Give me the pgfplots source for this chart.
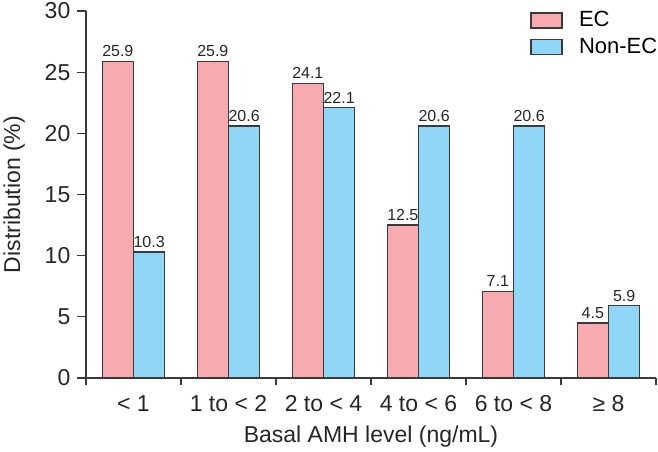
\documentclass[border=0pt]{standalone}
\usepackage{fontspec}
\setmainfont{Liberation Sans}
\usepackage{pgfplots}
\pgfplotsset{compat=1.18}
\definecolor{ecpink}{HTML}{F7ABB1}
\definecolor{ncblue}{HTML}{8FD6F7}
\definecolor{edgecol}{HTML}{3A3A3A}
\begin{document}
\begin{tikzpicture}
\begin{axis}[
  at={(43pt,36.5pt)}, anchor=south west,
  scale only axis, width=285pt, height=183.5pt,
  xmin=-0.5, xmax=5.5, ymin=0, ymax=30,
  axis lines*=left,
  axis line style={edgecol, line width=0.6pt},
  ytick={0,5,...,30},
  xtick={0,1,2,3,4,5},
  xticklabels={{< 1},{1 to < 2},{2 to < 4},{4 to < 6},{6 to < 8},{≥ 8}},
  major x tick style={draw=none},
  minor xtick={-0.5,0.5,...,5.5},
  minor x tick style={edgecol, line width=0.6pt},
  minor tick length=3.5pt,
  major tick length=4.3pt,
  tick align=outside,
  y tick style={edgecol, line width=0.6pt},
  /pgf/number format/assume math mode=true,
  tick label style={font=\fontsize{11.5}{13}\selectfont, text=black!85},
  xticklabel style={yshift=-1pt},
  xlabel={Basal AMH level (ng/mL)},
  ylabel={Distribution (\%)},
  label style={font=\fontsize{11.5}{13}\selectfont, text=black!85, inner sep=0pt},
  xlabel style={at={(axis description cs:0.5,-0.1608)}, anchor=center},
  ylabel style={at={(axis description cs:-0.126,0.5)}, anchor=center},
  ybar, bar width=0.33,
  nodes near coords,
  nodes near coords style={font=\fontsize{8}{9}\selectfont, text=black!85, inner sep=2pt, /pgf/number format/fixed, /pgf/number format/precision=1, /pgf/number format/fixed zerofill},
  legend style={at={(0.779,1.0)}, anchor=north west, yshift=0.5pt, draw=none, fill=none,
    font=\fontsize{11}{13}\selectfont, inner sep=0pt, row sep=3pt, nodes={inner sep=0.5pt}},
  legend cell align=left,
  legend image code/.code={\draw[#1] (0pt,-3.75pt) rectangle (15.5pt,3.75pt); \path[draw=none,fill=none] (0pt,-0.1pt) rectangle (23.5pt,0.1pt);},
]
\addplot[fill=ecpink, draw=edgecol, line width=0.6pt, bar shift=-0.165] coordinates {(0,25.9) (1,25.9) (2,24.1) (3,12.5) (4,7.1) (5,4.5)};
\addplot[fill=ncblue, draw=edgecol, line width=0.6pt, bar shift=0.165] coordinates {(0,10.3) (1,20.6) (2,22.1) (3,20.6) (4,20.6) (5,5.9)};
\legend{EC,Non-EC}
\end{axis}
\pgfresetboundingbox
\path (0,0) rectangle (329pt,225.5pt);
\end{tikzpicture}
\end{document}
